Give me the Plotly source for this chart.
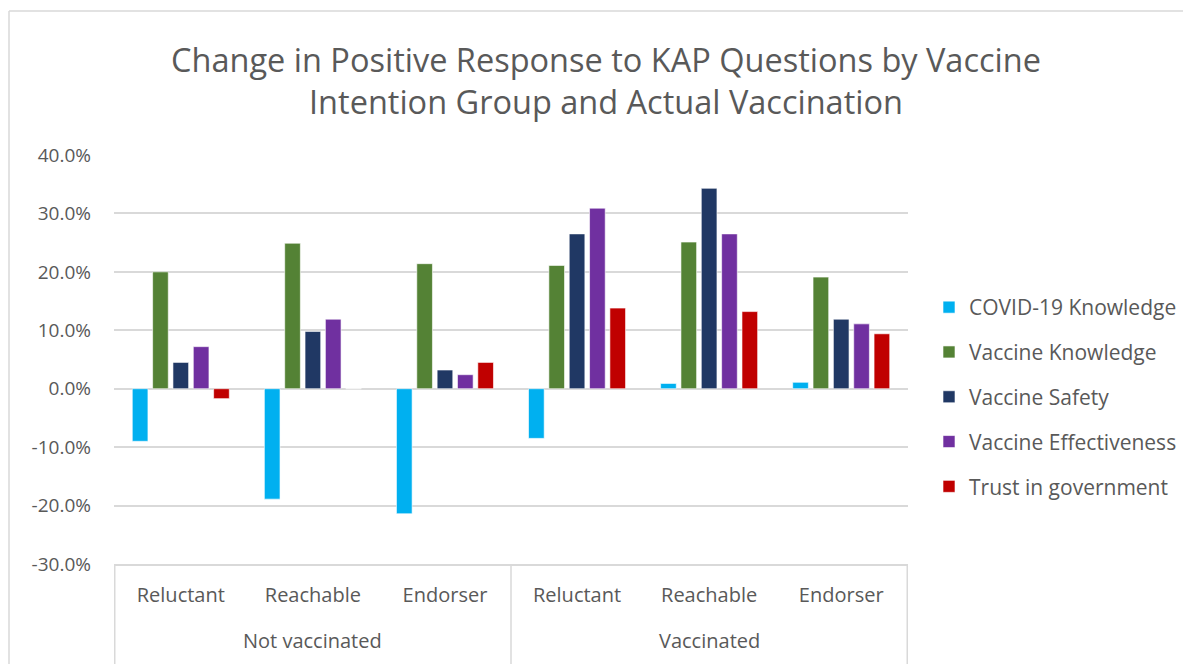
import plotly.graph_objects as go

groups = ["Not vaccinated", "Vaccinated"]
subcats = ["Reluctant", "Reachable", "Endorser", "Reluctant", "Reachable", "Endorser"]
group_of = [0, 0, 0, 1, 1, 1]
cat_keys = [f"{groups[g]} | {s}" for g, s in zip(group_of, subcats)]

series_names = ["COVID-19 Knowledge", "Vaccine Knowledge", "Vaccine Safety",
                "Vaccine Effectiveness", "Trust in government"]
covid_knowledge = [-9.0, -18.9, -21.4, -8.5, 0.9, 1.1]
vaccine_knowledge = [20.0, 24.9, 21.4, 21.1, 25.1, 19.1]
vaccine_safety = [4.5, 9.8, 3.2, 26.5, 34.3, 11.9]
vaccine_effectiveness = [7.2, 11.9, 2.4, 30.9, 26.5, 11.1]
trust_government = [-1.7, 0.0, 4.5, 13.8, 13.2, 9.4]
colors = ["#00B0F0", "#548235", "#203864", "#7030A0", "#C00000"]

y_tickvals = [-30, -20, -10, 0, 10, 20, 30, 40]
y_ticktext = ["-30.0%", "-20.0%", "-10.0%", "0.0%", "10.0%", "20.0%", "30.0%", "40.0%"]

values = [covid_knowledge, vaccine_knowledge, vaccine_safety,
          vaccine_effectiveness, trust_government]

FONT = "Open Sans"
GREY = "#595959"
LINE = "#D9D9D9"

# page offset (body margin) of the figure div
OFF = 8
W, H = 1191 - OFF, 664 - OFF
# plot area in page pixels
PL, PR, PT, PB = 114, 908, 155, 564
L, R, T, B = PL - OFF, W - (PR - OFF), PT - OFF, H - (PB - OFF)
pw, ph = W - L - R, H - T - B

def px_x(p):
    return (p - PL) / pw

def px_y(p):
    return (PB - p) / ph

fig = go.Figure()
for i, (name, vals, col) in enumerate(zip(series_names, values, colors)):
    fig.add_trace(go.Bar(
        x=cat_keys, y=vals, name=name,
        marker=dict(color=col, line=dict(color="rgba(255,255,255,0.6)", width=1)),
        legendgroup=f"g{i}",
    ))

annotations = []
for gi, g in enumerate(groups):
    members = [k for k, gg in zip(cat_keys, group_of) if gg == gi]
    annotations.append(dict(
        x=members[len(members) // 2], xref="x", y=px_y(640), yref="paper",
        yanchor="middle", xanchor="center", showarrow=False, text=g,
        font=dict(family=FONT, size=20, color=GREY),
    ))

shapes = [
    dict(type="line", xref="paper", yref="paper",
         x0=px_x(9), x1=px_x(9), y0=px_y(11), y1=px_y(680),
         line=dict(color=LINE, width=1.5)),
    dict(type="line", xref="paper", yref="paper",
         x0=px_x(9), x1=px_x(1220), y0=px_y(11), y1=px_y(11),
         line=dict(color=LINE, width=1.5)),
]
for xd in [-0.5, 2.5, 5.5]:
    shapes.append(dict(type="line", xref="x", yref="paper",
                       x0=xd, x1=xd, y0=0, y1=px_y(680),
                       line=dict(color=LINE, width=1.5)))

fig.update_layout(
    width=W, height=H,
    margin=dict(l=L, r=R, t=T, b=B, autoexpand=False),
    paper_bgcolor="white", plot_bgcolor="white",
    font=dict(family=FONT, color=GREY),
    title=dict(
        text="Change in Positive Response to KAP Questions by Vaccine<br>Intention Group and Actual Vaccination",
        x=(606 - OFF) / W, xanchor="center", y=1 - 64 / H, yanchor="middle",
        font=dict(family=FONT, size=32.5, color=GREY),
    ),
    barmode="group", bargap=0.23, bargroupgap=0.23,
    legend=dict(
        x=px_x(929), xanchor="left", y=px_y(287), yanchor="top",
        font=dict(family=FONT, size=21, color=GREY),
        tracegroupgap=14.5, bgcolor="rgba(0,0,0,0)",
    ),
    yaxis=dict(
        range=[-30, 40], tickvals=y_tickvals, ticktext=y_ticktext,
        showgrid=True, gridcolor=LINE, gridwidth=1.5,
        zeroline=False, showline=False,
        tickfont=dict(family=FONT, size=19, color=GREY),
        ticklabelstandoff=22,
    ),
    xaxis=dict(
        type="category", tickvals=cat_keys, ticktext=subcats,
        showline=True, linecolor=LINE, linewidth=1.5,
        showgrid=False, ticks="",
        tickfont=dict(family=FONT, size=20, color=GREY),
        ticklabelstandoff=12,
    ),
    annotations=annotations,
    shapes=shapes,
)

fig.write_html("out.html")
